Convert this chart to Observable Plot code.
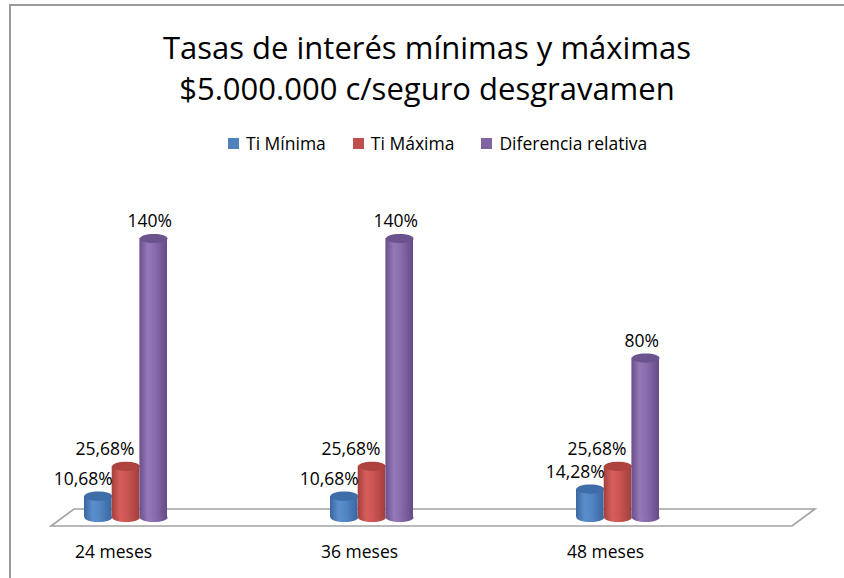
<!DOCTYPE html>
<html>
<head>
<meta charset="utf-8">
<script src="https://cdn.jsdelivr.net/npm/d3@7"></script>
<script src="https://cdn.jsdelivr.net/npm/@observablehq/plot@0.6"></script>
<style>
  html, body { margin: 0; padding: 0; background: #fff; }
  #wrap { position: relative; width: 844px; height: 578px; overflow: hidden; font-family: "Open Sans", sans-serif; color: #000; }
  #frame { position: absolute; left: 9px; top: 4px; width: 840px; height: 580px; border-top: 2px solid #9a9a9a; border-left: 2px solid #9a9a9a; box-sizing: border-box; }
  #chart { position: absolute; left: 0; top: 0; }
  #title { position: absolute; left: 10px; width: 834px; top: 27px; text-align: center; font-size: 31px; line-height: 41px; }
  #legend { position: absolute; left: 228px; top: 133px; display: flex; align-items: center; font-size: 17.5px; line-height: 20px; }
  .item { display: flex; align-items: center; margin-right: 27px; }
  .sw { width: 11px; height: 11px; margin-right: 7px; margin-top: 1px; }
</style>
</head>
<body>
<div id="wrap">
  <div id="frame"></div>
  <div id="chart"></div>
  <div id="title"></div>
  <div id="legend"></div>
</div>
<script>
// ---- data ----
const titleLines = ["Tasas de interés mínimas y máximas", "$5.000.000 c/seguro desgravamen"];
const categories = ["24 meses", "36 meses", "48 meses"];
const seriesNames = ["Ti Mínima", "Ti Máxima", "Diferencia relativa"];
const tiMinima = [10.68, 10.68, 14.28];
const tiMaxima = [25.68, 25.68, 25.68];
const diferencia = [140, 140, 80];
const seriesColors = ["#4F81BD", "#C0504D", "#8064A2"];
const seriesTops = ["#3E6DA8", "#AE423F", "#6B538E"];
const gradStops = [
  ["#3A679F", "#5B8DCB", "#5287C6", "#3A66A0"],
  ["#A43F3C", "#D65E5B", "#CC5653", "#A23E3B"],
  ["#6A4F8B", "#9478B8", "#8A6CAE", "#654B85"]
];

// ---- build table ----
const allValues = [tiMinima, tiMaxima, diferencia];
const rows = [];
categories.forEach((c, i) => seriesNames.forEach((s, j) => rows.push({cat: c, series: s, si: j, value: allValues[j][i]})));
const fmt = v => Number.isInteger(v) ? v + "%" : v.toFixed(2).replace(".", ",") + "%";

// title & legend
document.getElementById("title").innerHTML = titleLines.map(t => `<div>${t}</div>`).join("");
document.getElementById("legend").innerHTML = seriesNames.map((s, j) =>
  `<div class="item"><div class="sw" style="background:${seriesColors[j]}"></div><span>${s}</span></div>`).join("");

// ellipse symbol for cylinder caps
const ellipse = {
  draw(ctx) {
    const rx = 13.8, ry = 4.6, k = 0.5523;
    ctx.moveTo(rx, 0);
    ctx.bezierCurveTo(rx, ry * k, rx * k, ry, 0, ry);
    ctx.bezierCurveTo(-rx * k, ry, -rx, ry * k, -rx, 0);
    ctx.bezierCurveTo(-rx, -ry * k, -rx * k, -ry, 0, -ry);
    ctx.bezierCurveTo(rx * k, -ry, rx, -ry * k, rx, 0);
    ctx.closePath();
  }
};

// defs with gradients
const defs = () => {
  const g = d3.create("svg:defs");
  gradStops.forEach((st, j) => {
    const lg = g.append("linearGradient").attr("id", "cyl" + j).attr("x1", 0).attr("x2", 1).attr("y1", 0).attr("y2", 0);
    [0, 0.3, 0.55, 1].forEach((o, k) => lg.append("stop").attr("offset", o).attr("stop-color", st[k]));
  });
  return g.node();
};

// floor parallelogram (3D category plane)
const floor = (index, scales, values, dim) => {
  const y0 = dim.height - dim.marginBottom;
  const xl = dim.marginLeft - 9, xr = dim.width - dim.marginRight + 156;
  const by = y0 - 8, fy = y0 + 9, sx = -23;
  const p = `M${xl},${by}L${xr},${by}L${xr + sx},${fy}L${xl + sx},${fy}Z`;
  const g = d3.create("svg:path").attr("d", p).attr("fill", "#fff").attr("stroke", "#a2a2a2").attr("stroke-width", 1.6);
  return g.node();
};

const insets = [[0, 55.4], [27.7, 27.7], [55.4, 0]];
const offs = [-27.7, 0, 27.7];
const labelDx = [-15, -21, -4];

const marks = [defs, floor];
seriesNames.forEach((s, j) => {
  const d = rows.filter(r => r.si === j);
  marks.push(Plot.dot(d, {x: "cat", y: 0, dx: offs[j], symbol: ellipse, r: 3, fill: `url(#cyl${j})`, stroke: "none"}));
  marks.push(Plot.barY(d, {x: "cat", y: "value", insetLeft: insets[j][0], insetRight: insets[j][1], fill: `url(#cyl${j})`}));
  marks.push(Plot.dot(d, {x: "cat", y: "value", dx: offs[j], symbol: ellipse, r: 3, fill: seriesTops[j], stroke: "none"}));
});
seriesNames.forEach((s, j) => {
  const d = rows.filter(r => r.si === j);
  marks.push(Plot.text(d, {x: "cat", y: "value", text: r => fmt(r.value), dx: offs[j] + labelDx[j], dy: -17, fontSize: 17.5, fill: "#000"}));
});
marks.push(Plot.text(categories, {x: d => d, y: 0, text: d => d, dx: -12.5, dy: 35, fontSize: 17.5, fill: "#000"}));

const chart = Plot.plot({
  width: 844,
  height: 578,
  marginLeft: 83,
  marginRight: 185,
  marginTop: 238,
  marginBottom: 61,
  x: {type: "band", domain: categories, paddingInner: 0.6633, paddingOuter: 0, axis: null},
  y: {domain: [0, 140], axis: null},
  style: {fontFamily: "'Open Sans', sans-serif", fontSize: "17.5px", background: "transparent", overflow: "visible"},
  marks
});
document.getElementById("chart").appendChild(chart);
</script>
</body>
</html>
